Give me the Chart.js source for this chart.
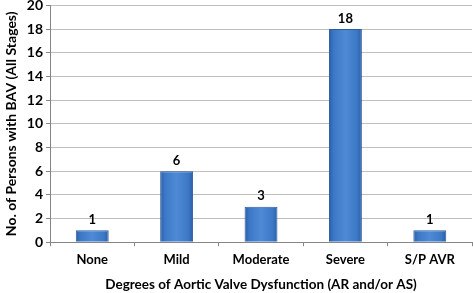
<!DOCTYPE html>
<html><head><meta charset="utf-8">
<script src="https://cdn.jsdelivr.net/npm/chart.js@4/dist/chart.umd.min.js"></script>
<style>html,body{margin:0;padding:0;background:#fff;overflow:hidden}#outer{width:473px;height:293px;overflow:hidden;position:relative}#wrap{width:473px;height:299px;position:absolute;top:-6px;left:0}</style>
</head><body><div id="outer"><div id="wrap"><canvas id="c"></canvas></div></div>
<script>
const categories = ["None", "Mild", "Moderate", "Severe", "S/P AVR"];
const values = [1, 6, 3, 18, 1];
const yTicks = [0, 2, 4, 6, 8, 10, 12, 14, 16, 18, 20];
const yTitle = "No. of Persons with BAV (All Stages)";
const xTitle = "Degrees of Aortic Valve Dysfunction (AR and/or AS)";

const FONT = "Lato, 'Open Sans', sans-serif";

const gradientPlugin = {
  id: 'grad',
  beforeDatasetsDraw(chart) {
    const c = chart.ctx;
    chart.getDatasetMeta(0).data.forEach(el => {
      const l = el.x - el.width / 2, r = el.x + el.width / 2;
      const g = c.createLinearGradient(l, 0, r, 0);
      g.addColorStop(0, '#2b5ea6');
      g.addColorStop(0.15, '#3d78c6');
      g.addColorStop(0.5, '#4f8ad6');
      g.addColorStop(0.85, '#3d78c6');
      g.addColorStop(1, '#2b5ea6');
      el.options = Object.assign({}, el.options, { backgroundColor: g });
    });
  },
  afterDatasetsDraw(chart) {
    const c = chart.ctx;
    c.save();
    c.font = "bold 13px " + FONT;
    c.fillStyle = '#000';
    c.textAlign = 'center';
    c.textBaseline = 'bottom';
    chart.getDatasetMeta(0).data.forEach((el, i) => {
      c.fillText(String(values[i]), el.x, el.y - 4);
    });
    c.restore();
  }
};

new Chart(document.getElementById('c'), {
  type: 'bar',
  data: { labels: categories, datasets: [{ data: values, backgroundColor: '#3d78c6', borderColor: '#2a5c9e', borderWidth: 1, categoryPercentage: 1, barPercentage: 0.39 }] },
  options: {
    responsive: true, maintainAspectRatio: false, animation: false,
    layout: { padding: { top: 0, right: 1, left: 3, bottom: 0 } },
    plugins: { legend: { display: false }, tooltip: { enabled: false } },
    scales: {
      x: {
        grid: { drawOnChartArea: false, color: '#868686', tickLength: 4, offset: true },
        border: { color: '#868686' },
        ticks: { color: '#000', font: { family: FONT, size: 13, weight: 'bold' }, padding: 6 },
        title: { display: true, text: xTitle, color: '#000', font: { family: FONT, size: 13.5, weight: 'bold' }, padding: { top: 3, bottom: 0 } }
      },
      y: {
        min: 0, max: 20,
        afterBuildTicks(axis) { axis.ticks = yTicks.map(v => ({ value: v })); },
        grid: { color: '#bfbfbf', tickLength: 4, tickColor: '#868686' },
        border: { color: '#868686' },
        ticks: { color: '#000', font: { family: FONT, size: 14, weight: 'bold' }, padding: 3 },
        title: { display: true, text: yTitle, color: '#000', font: { family: FONT, size: 14, weight: 'bold' }, padding: { top: 0, bottom: 4 } }
      }
    }
  },
  plugins: [gradientPlugin]
});
</script></body></html>
